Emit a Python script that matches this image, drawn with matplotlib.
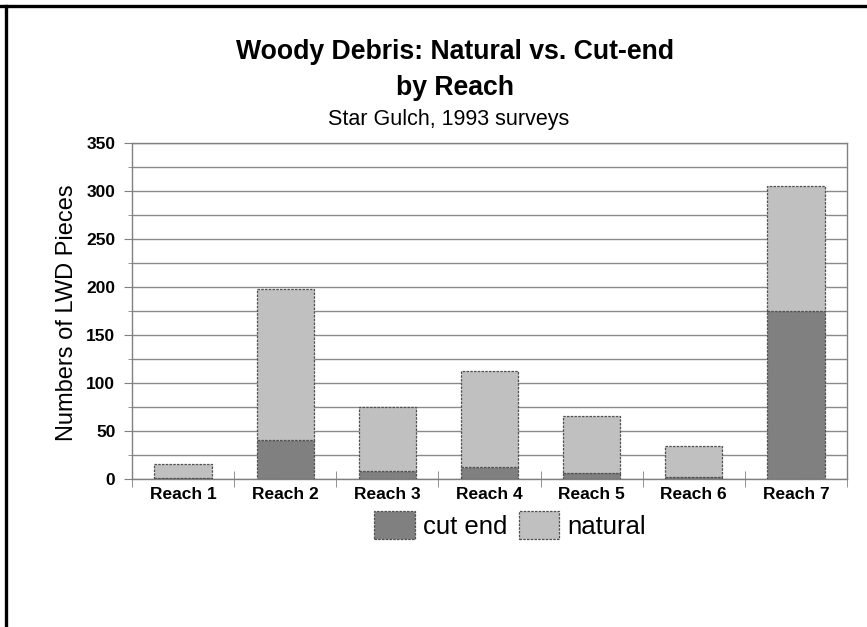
import matplotlib
matplotlib.use("Agg")
import matplotlib.pyplot as plt
from matplotlib.lines import Line2D
from matplotlib.ticker import MultipleLocator
import numpy as np

plt.rcParams["font.family"] = ["Liberation Sans", "DejaVu Sans"]

reaches = ["Reach 1", "Reach 2", "Reach 3", "Reach 4", "Reach 5", "Reach 6", "Reach 7"]
cut_end = [1, 41, 8, 12, 6, 2, 175]
totals = [16, 198, 75, 113, 66, 34, 305]
natural = [t - c for t, c in zip(totals, cut_end)]

W, H = 867, 627
fig = plt.figure(figsize=(W / 100, H / 100), dpi=100)

# page frame (top and left edges)
fig.add_artist(Line2D([0, 1], [1 - 6 / H, 1 - 6 / H], color="black", lw=2.4,
                      transform=fig.transFigure))
fig.add_artist(Line2D([6 / W, 6 / W], [0, 1 - 6 / H], color="black", lw=2.4,
                      transform=fig.transFigure))

left, right, top, bottom = 132, 847, 143, 479
ax = fig.add_axes([left / W, 1 - bottom / H, (right - left) / W, (bottom - top) / H])

x = np.arange(len(reaches))
edge = dict(edgecolor="#505050", linewidth=0.9, linestyle=(0, (2, 1)))
b1 = ax.bar(x, cut_end, width=0.56, color="#808080", label="cut end", zorder=3, **edge)
b2 = ax.bar(x, natural, width=0.56, bottom=cut_end, color="#C0C0C0", label="natural",
            zorder=3, **edge)

ax.set_xlim(-0.5, len(reaches) - 0.5)
ax.set_ylim(0, 350)
ax.yaxis.set_major_locator(MultipleLocator(50))
ax.yaxis.set_minor_locator(MultipleLocator(25))
ax.grid(axis="y", which="both", color="#8a8a8a", linewidth=1.0, zorder=0)

for s in ax.spines.values():
    s.set_color("#808080")
    s.set_linewidth(1.0)

ax.set_xticks(x)
ax.set_xticklabels(reaches, fontsize=12.5, fontweight="bold")
ax.set_xticks(np.arange(len(reaches) + 1) - 0.5, minor=True)
ax.tick_params(axis="x", which="major", length=0, pad=6)
ax.tick_params(axis="x", which="minor", direction="inout", length=11, color="#808080")
ax.tick_params(axis="y", which="major", length=6, color="#808080", pad=6,
               labelsize=12.5)
ax.tick_params(axis="y", which="minor", length=3, color="#808080")
for lab in ax.get_yticklabels():
    lab.set_fontweight("bold")

fig.text(67 / W, 1 - 313 / H, "Numbers of LWD Pieces", rotation=90, fontsize=17,
         ha="center", va="center")

fig.text(455 / W, 1 - 52 / H, "Woody Debris: Natural vs. Cut-end", fontsize=19.2,
         fontweight="bold", ha="center", va="center")
fig.text(455 / W, 1 - 88 / H, "by Reach", fontsize=19.2, fontweight="bold",
         ha="center", va="center")
fig.text(449 / W, 1 - 119 / H, "Star Gulch, 1993 surveys", fontsize=15.5,
         ha="center", va="center")

fig.legend(handles=[b1, b2], labels=["cut end", "natural"], loc="center",
           bbox_to_anchor=(510 / W, 1 - 525 / H), ncol=2, frameon=False,
           fontsize=18.5, handlelength=1.58, handleheight=1.27, handletextpad=0.3,
           columnspacing=0.45, borderpad=0.1)

fig.savefig("out.png", dpi=100)
